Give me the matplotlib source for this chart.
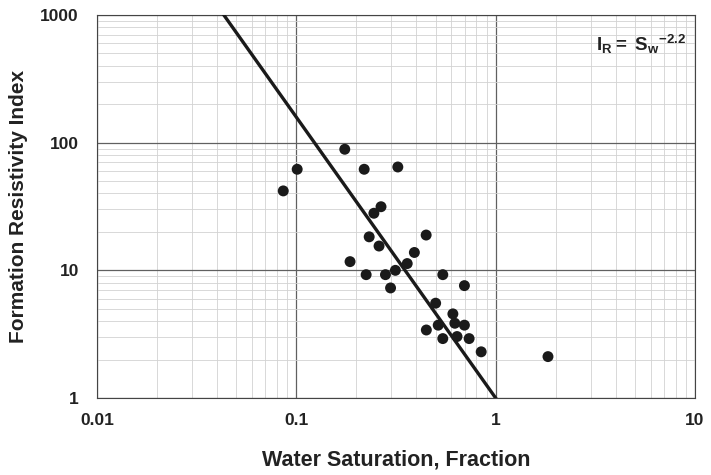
"""
Formation resistivity index vs water saturation (log-log) with Archie fit line.
"""

import numpy as np
import matplotlib.pyplot as plt
from matplotlib.ticker import FixedLocator, NullFormatter

plt.rcParams["font.family"] = ["Liberation Sans", "DejaVu Sans"]
plt.rcParams["mathtext.fontset"] = "custom"
plt.rcParams["mathtext.rm"] = "Liberation Sans"
plt.rcParams["mathtext.bf"] = "Liberation Sans:bold"

water_saturation = [0.086, 0.101, 0.175, 0.219, 0.323, 0.266, 0.245, 0.448, 0.232, 0.260,
                    0.391, 0.186, 0.360, 0.314, 0.280, 0.224, 0.543, 0.297, 0.697, 0.500,
                    0.610, 0.624, 0.515, 0.697, 0.449, 0.543, 0.640, 0.736, 0.846, 1.83]
resistivity_index = [41.9, 61.9, 88.8, 61.9, 64.5, 31.5, 28.0, 18.9, 18.3, 15.5,
                     13.8, 11.7, 11.3, 10.0, 9.25, 9.25, 9.25, 7.28, 7.59, 5.53,
                     4.56, 3.85, 3.72, 3.72, 3.41, 2.92, 3.03, 2.92, 2.30, 2.11]

# Fitted saturation exponent: IR = Sw^-n
saturation_exponent = 2.2
x_ticks = [0.01, 0.1, 1, 10]
x_tick_labels = ["0.01", "0.1", "1", "10"]
y_ticks = [1, 10, 100, 1000]
y_tick_labels = ["1", "10", "100", "1000"]


def main() -> None:
    fig = plt.figure(figsize=(7.11, 4.75), dpi=100)
    ax = fig.add_axes([0.1364, 0.1621, 0.8411, 0.8063])

    ax.set_xscale("log")
    ax.set_yscale("log")
    ax.set_xlim(0.01, 10)
    ax.set_ylim(1, 1000)

    # Grid lines like the printed log paper.
    ax.grid(True, which="major", color="#606060", linewidth=0.9)
    ax.grid(True, which="minor", color="#d2d2d2", linewidth=0.6)

    # Fit line from the top of the plot down to Sw = 1.
    sw_start = 1000 ** (-1 / saturation_exponent)
    sw_line = np.array([sw_start, 1.0])
    ax.plot(sw_line, sw_line ** (-saturation_exponent), color="#1a1a1a", linewidth=2.4, zorder=3)

    ax.scatter(water_saturation, resistivity_index, s=62, color="#1a1a1a", zorder=4,
               edgecolors="none")

    ax.xaxis.set_major_locator(FixedLocator(x_ticks))
    ax.set_xticklabels(x_tick_labels)
    ax.yaxis.set_major_locator(FixedLocator(y_ticks))
    ax.set_yticklabels(y_tick_labels)
    ax.xaxis.set_minor_formatter(NullFormatter())
    ax.yaxis.set_minor_formatter(NullFormatter())
    ax.tick_params(which="both", length=0)
    ax.tick_params(axis="x", pad=11, labelsize=12.5)
    ax.tick_params(axis="y", pad=13, labelsize=12.5)
    for label in ax.get_xticklabels() + ax.get_yticklabels():
        label.set_fontweight("bold")
        label.set_color("#222222")

    for spine in ax.spines.values():
        spine.set_color("#444444")
        spine.set_linewidth(0.8)

    ax.set_xlabel("Water Saturation, Fraction", fontsize=15.5, fontweight="bold",
                  color="#222222", labelpad=15)
    ax.set_ylabel("Formation Resistivity Index", fontsize=15, fontweight="bold",
                  color="#222222", labelpad=9)

    ax.text(0.985, 0.955, r"$\mathbf{I_R}$$\mathbf{=}$ $\mathbf{S_w}^{\mathbf{-2.2}}$",
            transform=ax.transAxes, ha="right", va="top", fontsize=13.5, color="#222222")

    fig.savefig("out.png", dpi=100)
    plt.close(fig)


if __name__ == "__main__":
    main()
